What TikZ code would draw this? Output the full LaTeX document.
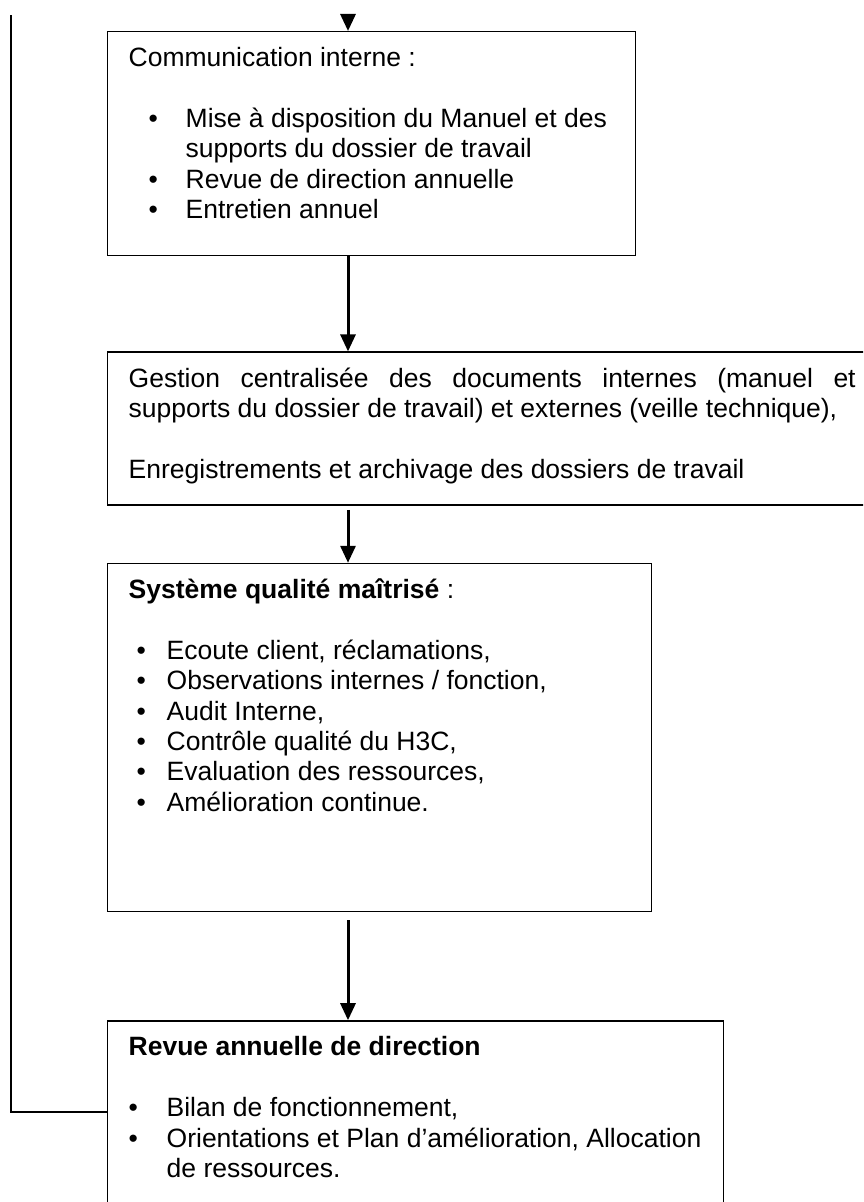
\documentclass[tikz,border=0pt]{standalone}
\usepackage{fontspec}
\setmainfont{Liberation Sans}
\usetikzlibrary{arrows.meta,positioning}

% puce : #1 retrait de la puce, #2 retrait du texte, #3 texte
\newcommand{\puce}[3]{\par\noindent\hangindent=#2\hangafter=1%
  \hspace*{#1}\makebox[\dimexpr#2-#1\relax][l]{\textbullet}#3}

\tikzset{
    cadre/.style={
        rectangle,                % boîte simple
        draw,                     % bord noir
        line width=0.7pt,         % trait fin
        anchor=north west,        % placée par son coin haut gauche
        inner xsep=10.5pt,        % marge gauche et droite du texte
        inner ysep=0pt,           % la hauteur vient du \parbox
        font=\fontsize{13.25pt}{15.2pt}\selectfont
    },
    fleche/.style={
        line width=1.5pt,         % flèche épaisse
        -{Triangle[length=8.5pt,width=7.5pt]}
    },
    retour/.style={
        line width=1pt            % ligne de retour vers le haut
    }
}

\begin{document}
\begin{tikzpicture}[x=0.5pt,y=-0.5pt]
    \useasboundingbox (0,0) rectangle (863,1202);
    \clip (0,0) rectangle (863,1202);

    \node[cadre] (comm) at (107,31) {\parbox[t][112pt][t]{243pt}{\raggedright
        \rule{0pt}{17.5pt}Communication interne :\par
        \vspace{\baselineskip}
        \puce{10pt}{28.5pt}{Mise à disposition du Manuel et des supports du dossier de travail}
        \puce{10pt}{28.5pt}{Revue de direction annuelle}
        \puce{10pt}{28.5pt}{Entretien annuel}}};
    \node[cadre, below=47.5pt of comm.south west, anchor=north west] (gestion) {\parbox[t][76.5pt][t]{363.5pt}{\hyphenpenalty=10000
        \rule{0pt}{17.5pt}Gestion centralisée des documents internes (manuel et\linebreak supports du dossier de travail) et externes (veille technique),\par
        \vspace{\baselineskip}
        Enregistrements et archivage des dossiers de travail}};
    \node[cadre, below=28.5pt of gestion.south west, anchor=north west] (qualite) {\parbox[t][174pt][t]{251pt}{\raggedright
        \rule{0pt}{17.5pt}\textbf{Système qualité maîtrisé} :\par
        \vspace{\baselineskip}
        \puce{4pt}{19pt}{Ecoute client, réclamations,}
        \puce{4pt}{19pt}{Observations internes / fonction,}
        \puce{4pt}{19pt}{Audit Interne,}
        \puce{4pt}{19pt}{Contrôle qualité du H3C,}
        \puce{4pt}{19pt}{Evaluation des ressources,}
        \puce{4pt}{19pt}{Amélioration continue.}}};
    \node[cadre, below=54pt of qualite.south west, anchor=north west] (revue) {\parbox[t][107pt][t]{287pt}{\raggedright
        \rule{0pt}{17.5pt}\textbf{Revue annuelle de direction}\par
        \vspace{\baselineskip}
        \puce{0pt}{19pt}{Bilan de fonctionnement,}
        \puce{0pt}{19pt}{Orientations et Plan d’amélioration, Allocation de ressources.}}};

    % axe des flèches et points libres
    \coordinate (axe) at (348,0);
    \coordinate (entree) at (348,14);
    \coordinate (haut) at (11,15);
    \coordinate (niveau) at (0,1112);

    \draw[fleche] (entree) -- (comm.north -| axe);
    \draw[fleche] (comm.south -| axe) -- (gestion.north -| axe);
    \draw[fleche, shorten <=2pt] (gestion.south -| axe) -- (qualite.north -| axe);
    \draw[fleche, shorten <=4pt] (qualite.south -| axe) -- (revue.north -| axe);
    \draw[retour] (revue.west |- niveau) -| (haut);
\end{tikzpicture}
\end{document}
